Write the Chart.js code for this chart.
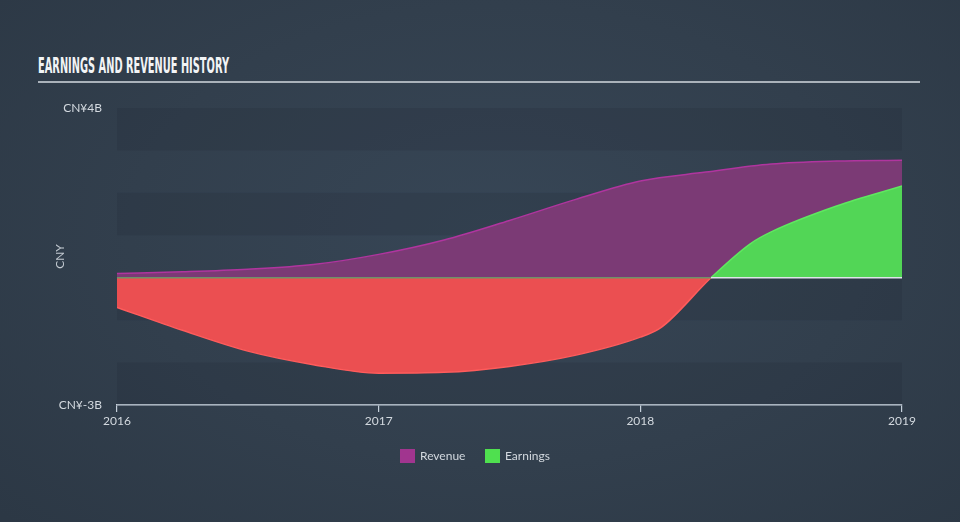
<!DOCTYPE html>
<html>
<head>
<meta charset="utf-8">
<script src="https://cdn.jsdelivr.net/npm/chart.js@4.4.1/dist/chart.umd.min.js"></script>
<style>
  html, body { margin:0; padding:0; }
  body {
    width:960px; height:522px; overflow:hidden; position:relative;
    background: radial-gradient(ellipse 70% 80% at 52% 45%, #374656 0%, #323f4d 55%, #2c3845 100%);
    font-family: Lato, "Open Sans", sans-serif;
  }
  #title {
    position:absolute; left:38px; top:55px; color:#f2f4f6;
    font-family:"Liberation Sans Narrow","DejaVu Sans Condensed",sans-serif;
    font-weight:bold; font-size:22px; line-height:22px; white-space:nowrap;
    transform-origin:0 0; letter-spacing:0px;
  }
  #rule { position:absolute; left:38px; top:81px; width:882px; height:2px; background:#aab2ba; }
  #chartwrap { position:absolute; left:0; top:0; width:960px; height:522px; }
  #legend { position:absolute; top:448px; left:0; width:960px; height:18px; font-size:12px; color:#d3d9df; }
  .item { position:absolute; top:0; height:16px; line-height:16px; }
  .sw { position:absolute; top:1px; left:0; width:15px; height:14px; }
  .lt { position:absolute; left:20px; top:0; white-space:nowrap; }
</style>
</head>
<body>
<div id="title">EARNINGS AND REVENUE HISTORY</div>
<div id="rule"></div>
<div id="chartwrap"><canvas id="c" width="960" height="522"></canvas></div>
<div id="legend">
  <div class="item" style="left:400px"><div class="sw" style="background:#a1358f"></div><div class="lt">Revenue</div></div>
  <div class="item" style="left:485px"><div class="sw" style="background:#4fe04f"></div><div class="lt">Earnings</div></div>
</div>
<script>
// ---- data (values in CNY billions) ----
const revenueDates = [2016, 2016.25, 2016.5, 2016.75, 2017, 2017.25, 2017.5, 2017.75, 2018, 2018.25, 2018.5, 2018.75, 2019];
const revenueValues = [0.10, 0.14, 0.20, 0.31, 0.55, 0.89, 1.35, 1.84, 2.28, 2.49, 2.68, 2.75, 2.77];
const earningsDates = [2016, 2016.25, 2016.5, 2016.75, 2017, 2017.25, 2017.5, 2017.75, 2018, 2018.08, 2018.27, 2018.42, 2018.5, 2018.75, 2019];
const earningsValues = [-0.70, -1.24, -1.73, -2.05, -2.25, -2.23, -2.09, -1.83, -1.40, -1.17, 0.00, 0.80, 1.08, 1.69, 2.16];
const xTicks = [2016, 2017, 2018, 2019];
const yMin = -3, yMax = 4;
const yTickLabels = { "4": "CN¥4B", "-3": "CN¥-3B" };

// fit title width
(function(){
  const t = document.getElementById('title');
  const w = t.getBoundingClientRect().width;
  t.style.transform = 'scaleX(' + (191 / w) + ')';
})();

const RED = '#eb4f51', GREEN = '#52d656', PURPLE_FILL = '#7b3a75', PURPLE_LINE = '#b0359f';

const bandsPlugin = {
  id: 'bands',
  beforeDatasetsDraw(chart) {
    const {ctx, chartArea, scales:{y}} = chart;
    ctx.save();
    for (let v = yMax; v > yMin; v--) {
      if ((yMax - v) % 2 === 0) {
        const top = y.getPixelForValue(v), bot = y.getPixelForValue(v - 1);
        ctx.fillStyle = 'rgba(28,38,50,0.17)';
        ctx.fillRect(chartArea.left, top, chartArea.right - chartArea.left, bot - top);
      }
    }
    ctx.restore();
  },
  afterDatasetsDraw(chart) {
    const {ctx, chartArea, scales:{x, y}} = chart;
    const y0 = y.getPixelForValue(0);
    let cross = earningsDates[earningsDates.length - 1];
    for (let i = 1; i < earningsValues.length; i++) {
      if (earningsValues[i-1] < 0 && earningsValues[i] >= 0) {
        const a = earningsValues[i-1], b = earningsValues[i];
        cross = earningsDates[i-1] + (earningsDates[i] - earningsDates[i-1]) * (-a) / (b - a);
        break;
      }
    }
    const xc = x.getPixelForValue(cross);
    ctx.save();
    ctx.lineWidth = 1.5;
    ctx.strokeStyle = 'rgba(110,150,105,0.95)';
    ctx.beginPath(); ctx.moveTo(chartArea.left, y0); ctx.lineTo(xc, y0); ctx.stroke();
    ctx.strokeStyle = '#dfe5ea';
    ctx.beginPath(); ctx.moveTo(xc, y0); ctx.lineTo(chartArea.right, y0); ctx.stroke();
    ctx.restore();
  }
};

new Chart(document.getElementById('c'), {
  type: 'line',
  data: {
    datasets: [
      {
        label: 'Revenue',
        data: revenueDates.map((d, i) => ({x: d, y: revenueValues[i]})),
        borderColor: PURPLE_LINE,
        backgroundColor: PURPLE_FILL,
        borderWidth: 1.5,
        fill: 'origin',
        pointRadius: 0,
        cubicInterpolationMode: 'monotone',
        order: 2
      },
      {
        label: 'Earnings',
        data: earningsDates.map((d, i) => ({x: d, y: earningsValues[i]})),
        borderWidth: 1.5,
        segment: {
          borderColor: c => (c.p0.parsed.y < 0 || c.p1.parsed.y < 0) ? '#ff5c5c' : '#5fe860'
        },
        fill: { target: 'origin', above: GREEN, below: RED },
        pointRadius: 0,
        cubicInterpolationMode: 'monotone',
        order: 1
      }
    ]
  },
  options: {
    responsive: false,
    animation: false,
    events: [],
    layout: { padding: { left: 0, right: 58, top: 108, bottom: 0 } },
    plugins: { legend: { display: false }, tooltip: { enabled: false } },
    scales: {
      x: {
        type: 'linear',
        min: 2016, max: 2019,
        afterBuildTicks: s => { s.ticks = xTicks.map(v => ({value: v})); },
        afterFit: s => { s.height = 117; },
        ticks: {
          color: '#d3d9df', font: { family: 'Lato', size: 12 }, padding: 2,
          maxRotation: 0, autoSkip: false,
          callback: v => String(v)
        },
        grid: { display: true, drawOnChartArea: false, drawTicks: true, tickLength: 7, color: '#c5d0db', lineWidth: 1.2 },
        border: { display: true, color: '#c5d0db', width: 1.5 }
      },
      y: {
        min: yMin, max: yMax,
        afterBuildTicks: s => { s.ticks = [yMin, yMax].map(v => ({value: v})); },
        afterFit: s => { s.width = 117; },
        ticks: {
          color: '#d3d9df', font: { family: 'Lato', size: 12 }, padding: 15,
          callback: v => yTickLabels[String(v)] || ''
        },
        grid: { display: false, drawTicks: false },
        border: { display: false },
        title: {
          display: true, text: 'CNY', color: '#c3cad1',
          font: { family: 'Lato', size: 12 }, padding: { top: 53, bottom: 0 }
        }
      }
    }
  },
  plugins: [bandsPlugin]
});
</script>
</body>
</html>
